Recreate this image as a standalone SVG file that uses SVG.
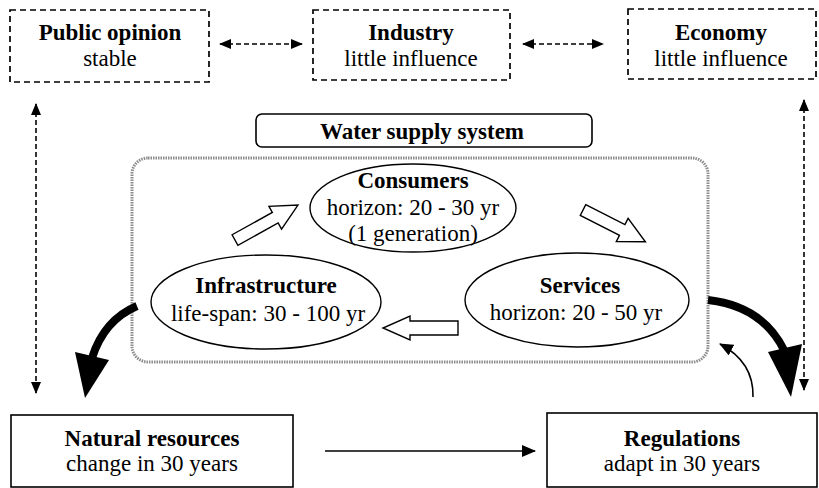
<svg xmlns="http://www.w3.org/2000/svg" width="819" height="488" viewBox="0 0 819 488">
  <defs>
    <marker id="tri" viewBox="0 0 12 10" refX="11" refY="5" markerWidth="12" markerHeight="10" markerUnits="userSpaceOnUse" orient="auto-start-reverse">
      <path d="M0,0 L12,5 L0,10 Z" fill="#000"/>
    </marker>
    <marker id="triS" viewBox="0 0 14 12" refX="13" refY="6" markerWidth="14" markerHeight="12" markerUnits="userSpaceOnUse" orient="auto">
      <path d="M0,0 L14,6 L0,12 Z" fill="#000"/>
    </marker>
  </defs>
  <style>
    text { font-family: "Liberation Serif", "Times New Roman", serif; font-size: 23px; fill: #000; text-anchor: middle; }
    .b { font-weight: bold; }
    .dbox { fill: #fff; stroke: #000; stroke-width: 1.7; stroke-dasharray: 6 4; }
    .sbox { fill: #fff; stroke: #000; stroke-width: 1.6; }
    .ell { fill: #fff; stroke: #000; stroke-width: 1.4; }
    .dash { fill: none; stroke: #000; stroke-width: 1.6; stroke-dasharray: 5 3; }
    .hollow { fill: #fff; stroke: #000; stroke-width: 1.4; stroke-linejoin: miter; }
    .thick { fill: none; stroke: #000; stroke-width: 8; }
  </style>
  <rect width="819" height="488" fill="#fff"/>

  <!-- system boundary: speckled grey frame with the title tab above it -->
  <g id="system">
    <rect x="132" y="158" width="576" height="204" rx="16" fill="none" stroke="#8c8c8c" stroke-width="3" stroke-dasharray="1.5 1"/>
    <rect x="256" y="114" width="336" height="33" rx="6" fill="#fff" stroke="#000" stroke-width="1.6"/>
    <text class="b" x="422" y="139">Water supply system</text>
  </g>

  <!-- top row -->
  <g id="public-opinion">
    <rect class="dbox" x="10" y="10" width="199" height="72"/>
    <text class="b" x="110" y="40">Public opinion</text>
    <text x="110" y="66">stable</text>
  </g>
  <g id="industry">
    <rect class="dbox" x="313" y="10" width="197" height="70"/>
    <text class="b" x="411" y="40">Industry</text>
    <text x="411" y="66">little influence</text>
  </g>
  <g id="economy">
    <rect class="dbox" x="628" y="9" width="188" height="70"/>
    <text class="b" x="721" y="40">Economy</text>
    <text x="721" y="66">little influence</text>
  </g>

  <!-- system components -->
  <g id="consumers">
    <ellipse class="ell" cx="413" cy="208" rx="103" ry="44"/>
    <text class="b" x="413" y="188">Consumers</text>
    <text x="413" y="215">horizon: 20 - 30 yr</text>
    <text x="413" y="241">(1 generation)</text>
  </g>
  <g id="infrastructure">
    <ellipse class="ell" cx="266" cy="302" rx="115" ry="47"/>
    <text class="b" x="266" y="293">Infrastructure</text>
    <text x="268" y="321">life-span: 30 - 100 yr</text>
  </g>
  <g id="services">
    <ellipse class="ell" cx="577" cy="300" rx="112" ry="47"/>
    <text class="b" x="580" y="293">Services</text>
    <text x="576" y="320">horizon: 20 - 50 yr</text>
  </g>

  <!-- bottom row -->
  <g id="natural-resources">
    <rect class="sbox" x="11" y="415" width="282" height="72"/>
    <text class="b" x="152" y="446">Natural resources</text>
    <text x="152" y="471">change in 30 years</text>
  </g>
  <g id="regulations">
    <rect class="sbox" x="547" y="413" width="270" height="74"/>
    <text class="b" x="682" y="446">Regulations</text>
    <text x="682" y="471">adapt in 30 years</text>
  </g>

  <!-- connectors -->
  <g id="connectors">
    <line class="dash" x1="220" y1="44" x2="302" y2="44" marker-start="url(#tri)" marker-end="url(#tri)"/>
    <line class="dash" x1="523" y1="44" x2="603" y2="44" marker-start="url(#tri)" marker-end="url(#tri)"/>
    <line class="dash" x1="36" y1="104" x2="36" y2="393" marker-start="url(#tri)" marker-end="url(#tri)"/>
    <line class="dash" x1="804" y1="100" x2="804" y2="390" marker-start="url(#tri)" marker-end="url(#tri)"/>

    <polygon class="hollow" transform="translate(235,240) rotate(-29)" points="0,-6 46,-6 46,-13 72,0 46,13 46,6 0,6"/>
    <polygon class="hollow" transform="translate(583,210) rotate(27)" points="0,-6 44,-6 44,-13 70,0 44,13 44,6 0,6"/>
    <polygon class="hollow" transform="translate(458,328) rotate(180)" points="0,-7 48,-7 48,-12 75,0 48,12 48,7 0,7"/>

    <path class="thick" d="M137,306 Q104,320 92,358"/>
    <polygon points="75,352 109,360 85,398" fill="#000"/>

    <path class="thick" d="M708,300 Q762,306 784,350"/>
    <polygon points="768,352 802,344 791,397" fill="#000"/>

    <path d="M753,397 Q754,362 720,344" fill="none" stroke="#000" stroke-width="1.6" marker-end="url(#triS)"/>

    <line x1="325" y1="451" x2="535" y2="451" stroke="#000" stroke-width="1.4" marker-end="url(#triS)"/>
  </g>
</svg>
